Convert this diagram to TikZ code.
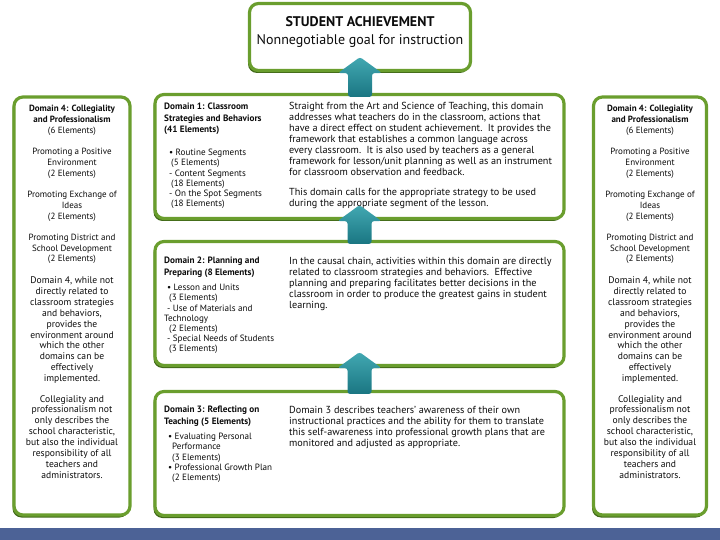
\documentclass[tikz,border=0pt]{standalone}
\usepackage{fontspec}
\setmainfont{PT Sans}
\usetikzlibrary{shadows,calc}

\definecolor{boxgreen}{RGB}{106,158,46}
\definecolor{shadegreen}{RGB}{64,104,24}
\definecolor{arrowtop}{RGB}{66,168,178}
\definecolor{arrowbot}{RGB}{26,118,130}
\definecolor{barblue}{RGB}{76,98,150}
\definecolor{inkgray}{RGB}{12,12,12}

% block arrow pointing up from the lower panel #1 into the upper panel #2
\newcommand\liftarrow[2]{%
  \shade[top color=arrowtop, bottom color=arrowbot, rounded corners=2.5pt]
    ($(#2.south |- #1.north)+(-12,4)$) -- ($(#2.south)+(-12,1)$)
    -- ($(#2.south)+(-22,1)$) -- ($(#2.south)+(0,-15)$)
    -- ($(#2.south)+(22,1)$) -- ($(#2.south)+(12,1)$)
    -- ($(#2.south |- #1.north)+(12,4)$) -- cycle;
}

\begin{document}
\begin{tikzpicture}[x=1pt, y=-1pt,
    panel/.style={draw=boxgreen, line width=3.2pt, fill=white, rounded corners=9pt,
      drop shadow={shadow xshift=-1.5pt, shadow yshift=-2.5pt, fill=shadegreen, opacity=1}},
    sidetext/.style={anchor=north, align=center, inner sep=0pt, text=inkgray,
      font=\fontsize{9}{10.8}\selectfont},
    sidenote/.style={sidetext, font=\fontsize{9.6}{10.9}\selectfont},
    headtext/.style={anchor=north west, align=left, inner sep=0pt, text=inkgray,
      font=\fontsize{9.2}{11.6}\selectfont\bfseries},
    listtext/.style={anchor=north west, align=left, inner sep=0pt, text=inkgray,
      font=\fontsize{9.1}{10.2}\selectfont},
    bodytext/.style={anchor=north west, align=left, inner sep=0pt, text=inkgray,
      font=\fontsize{10.2}{11}\selectfont}]

    \useasboundingbox (0,0) rectangle (720,540);

    \fill[barblue] (0,528) rectangle (720,540);

    % panels
    \node[panel, minimum width=221pt, minimum height=67pt] (goal) at (360,37) {};
    \node[panel, minimum width=409pt, minimum height=124pt] (d1) at (359.5,156.5) {};
    \node[panel, minimum width=409pt, minimum height=124pt] (d2) at (359.5,303.5) {};
    \node[panel, minimum width=409pt, minimum height=124pt] (d3) at (359.5,453.5) {};
    \node[panel, minimum width=116pt, minimum height=418pt] (d4left) at (72,306) {};
    \node[panel, minimum width=113pt, minimum height=418pt] (d4right) at (650,306) {};

    \node[anchor=north, align=center, inner sep=0pt, text=inkgray,
      font=\fontsize{14}{18}\selectfont] (goaltext) at (360,16)
      {\textbf{STUDENT ACHIEVEMENT}\\ Nonnegotiable goal for instruction};

    % side columns
    \foreach \side/\cx in {left/72, right/650} {
      \node[sidetext] (d4\side text) at (\cx,105) {%
        \textbf{Domain 4: Collegiality}\\ \textbf{and Professionalism}\\ (6 Elements)\\[10.5pt]
        Promoting a Positive\\ Environment\\ (2 Elements)\\[10.5pt]
        Promoting Exchange of\\ Ideas\\ (2 Elements)\\[10.5pt]
        Promoting District and\\ School Development\\ (2 Elements)};
      \node[sidenote] (d4\side note) at (\cx,276.5) {%
        Domain 4, while not\\ directly related to\\ classroom strategies\\ and behaviors,\\
        provides the\\ environment around\\ which the other\\ domains can be\\
        effectively\\ implemented.\\[9.5pt]
        Collegiality and\\ professionalism not\\ only describes the\\ school characteristic,\\
        but also the individual\\ responsibility of all\\ teachers and\\ administrators.};
    }

    % domain 1
    \node[headtext] (d1head) at (164,103)
      {Domain 1: Classroom\\ Strategies and Behaviors\\ (41 Elements)};
    \node[listtext] (d1list) at (169,149)
      {• Routine Segments\\ \hspace*{2pt}(5 Elements)\\ - Content Segments\\ \hspace*{2pt}(18 Elements)\\
       - On the Spot Segments\\ \hspace*{2pt}(18 Elements)};
    \node[bodytext] (d1text) at (289,102)
      {Straight from the Art and Science of Teaching, this domain\\
       addresses what teachers do in the classroom, actions that\\
       have a direct effect on student achievement.\ \ It provides the\\
       framework that establishes a common language across\\
       every classroom.\ \ It is also used by teachers as a general\\
       framework for lesson/unit planning as well as an instrument\\
       for classroom observation and feedback.\\[9pt]
       This domain calls for the appropriate strategy to be used\\
       during the appropriate segment of the lesson.};

    % domain 2
    \node[headtext] (d2head) at (164,257)
      {Domain 2: Planning and\\ Preparing (8 Elements)};
    \node[listtext] (d2list) at (167,284)
      {• Lesson and Units\\ \hspace*{2pt}(3 Elements)\\ - Use of Materials and\\ \hspace*{-3pt}Technology\\
       \hspace*{2pt}(2 Elements)\\ - Special Needs of Students\\ \hspace*{2pt}(3 Elements)};
    \node[bodytext] (d2text) at (289,257)
      {In the causal chain, activities within this domain are directly\\
       related to classroom strategies and behaviors.\ \ Effective\\
       planning and preparing facilitates better decisions in the\\
       classroom in order to produce the greatest gains in student\\
       learning.};

    % domain 3
    \node[headtext] (d3head) at (164,406)
      {Domain 3: Reflecting on\\ Teaching (5 Elements)};
    \node[listtext] (d3list) at (168,433)
      {• Evaluating Personal\\ \hspace*{4pt}Performance\\ \hspace*{4pt}(3 Elements)\\
       • Professional Growth Plan\\ \hspace*{4pt}(2 Elements)};
    \node[bodytext] (d3text) at (289,406)
      {Domain 3 describes teachers' awareness of their own\\
       instructional practices and the ability for them to translate\\
       this self-awareness into professional growth plans that are\\
       monitored and adjusted as appropriate.};

    % arrows
    \liftarrow{d1}{goal}
    \liftarrow{d2}{d1}
    \liftarrow{d3}{d2}
\end{tikzpicture}
\end{document}
